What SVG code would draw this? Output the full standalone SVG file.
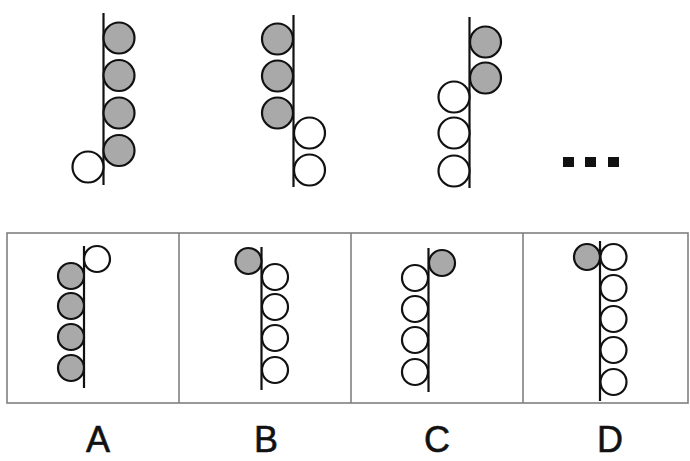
<svg xmlns="http://www.w3.org/2000/svg" width="690" height="461" viewBox="0 0 690 461">
<style>
.ln{stroke:#111;stroke-width:2.2;fill:none}
.g{fill:#a9a9a9;stroke:#111;stroke-width:2.2}
.w{fill:#fff;stroke:#111;stroke-width:2.2}
.box{fill:none;stroke:#808080;stroke-width:1.6}
.lbl{font-family:"Liberation Sans",Arial,sans-serif;font-size:36px;fill:#111;stroke:#111;stroke-width:0.6;text-anchor:middle}
</style>
<rect width="690" height="461" fill="#fff"/>
<g id="fig1">
<line class="ln" x1="103.5" y1="13" x2="103.5" y2="185"/>
<circle class="g" cx="119" cy="38" r="15.5"/>
<circle class="g" cx="119" cy="75.5" r="15.5"/>
<circle class="g" cx="119" cy="113" r="15.5"/>
<circle class="g" cx="119" cy="150.5" r="15.5"/>
<circle class="w" cx="88" cy="167" r="15.5"/>
</g>
<g id="fig2">
<line class="ln" x1="293.5" y1="15" x2="293.5" y2="187"/>
<circle class="g" cx="277.5" cy="39" r="15.5"/>
<circle class="g" cx="277.5" cy="76" r="15.5"/>
<circle class="g" cx="277.5" cy="113" r="15.5"/>
<circle class="w" cx="309.5" cy="133" r="15.5"/>
<circle class="w" cx="309.5" cy="170" r="15.5"/>
</g>
<g id="fig3">
<line class="ln" x1="469.5" y1="17" x2="469.5" y2="188"/>
<circle class="g" cx="485.5" cy="42" r="15.5"/>
<circle class="g" cx="485.5" cy="78" r="15.5"/>
<circle class="w" cx="454" cy="97" r="15.5"/>
<circle class="w" cx="454" cy="133" r="15.5"/>
<circle class="w" cx="454" cy="171" r="15.5"/>
</g>
<g id="ellipsis" fill="#111">
<rect x="563" y="157" width="11" height="10"/>
<rect x="585" y="157" width="11" height="10"/>
<rect x="608" y="157" width="11" height="10"/>
</g>
<g id="options-box">
<rect class="box" x="7" y="233" width="681" height="170"/>
<line class="box" x1="179" y1="233" x2="179" y2="403"/>
<line class="box" x1="351" y1="233" x2="351" y2="403"/>
<line class="box" x1="523" y1="233" x2="523" y2="403"/>
</g>
<g id="optA">
<line class="ln" x1="84" y1="246" x2="84" y2="388"/>
<circle class="w" cx="97" cy="259" r="13"/>
<circle class="g" cx="71" cy="276" r="13"/>
<circle class="g" cx="71" cy="306" r="13"/>
<circle class="g" cx="71" cy="337" r="13"/>
<circle class="g" cx="71" cy="368" r="13"/>
</g>
<g id="optB">
<line class="ln" x1="261.5" y1="247" x2="261.5" y2="390"/>
<circle class="g" cx="248.5" cy="261" r="13"/>
<circle class="w" cx="275" cy="277" r="13"/>
<circle class="w" cx="275" cy="307" r="13"/>
<circle class="w" cx="275" cy="338" r="13"/>
<circle class="w" cx="275" cy="370" r="13"/>
</g>
<g id="optC">
<line class="ln" x1="428.5" y1="248" x2="428.5" y2="392"/>
<circle class="g" cx="442" cy="263" r="13"/>
<circle class="w" cx="415" cy="278" r="13"/>
<circle class="w" cx="415" cy="309" r="13"/>
<circle class="w" cx="415" cy="340" r="13"/>
<circle class="w" cx="415" cy="372" r="13"/>
</g>
<g id="optD">
<line class="ln" x1="600" y1="241" x2="600" y2="401"/>
<circle class="g" cx="587" cy="257" r="13"/>
<circle class="w" cx="613.5" cy="257" r="13"/>
<circle class="w" cx="613.5" cy="288" r="13"/>
<circle class="w" cx="613.5" cy="319" r="13"/>
<circle class="w" cx="613.5" cy="350" r="13"/>
<circle class="w" cx="613.5" cy="382" r="13"/>
</g>
<g id="labels">
<text class="lbl" x="98" y="452">A</text>
<text class="lbl" x="266" y="452">B</text>
<text class="lbl" x="437" y="452">C</text>
<text class="lbl" x="610" y="452">D</text>
</g>
</svg>
